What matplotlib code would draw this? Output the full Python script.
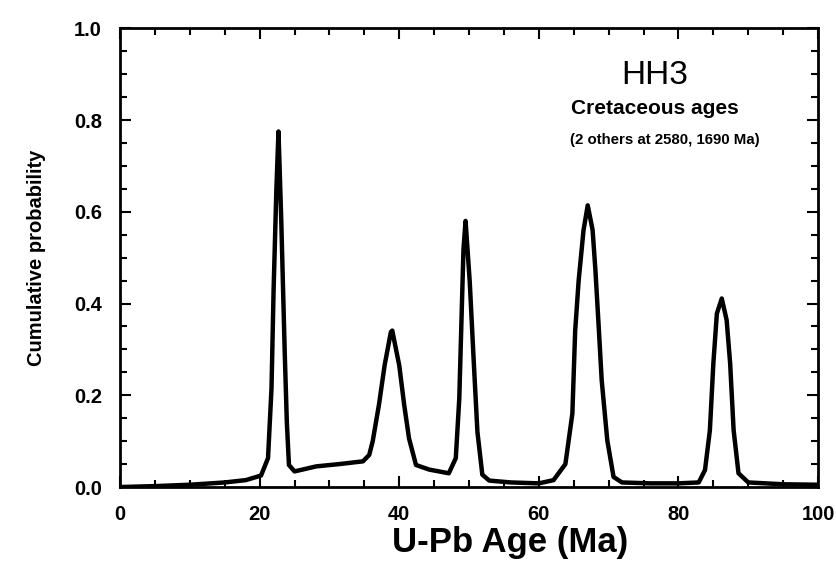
import matplotlib
matplotlib.use("Agg")
import matplotlib.pyplot as plt
from matplotlib.ticker import MultipleLocator

# Values
age = [0, 5, 10, 15, 18, 20.2, 21.2, 21.7, 22.0, 22.4, 22.7, 23.1, 23.6, 23.9,
       24.2, 25.0, 28.1, 31.4, 34.8, 35.7, 36.2, 37.1, 37.9, 38.8, 39.0, 40.0,
       40.7, 41.4, 42.4, 44.3, 47.1, 48.1, 48.6, 49.0, 49.2, 49.5, 50.1, 50.7,
       51.2, 51.9, 52.9, 56, 60, 62.1, 63.8, 64.8, 65.2, 65.7, 66.4, 67.0, 67.7,
       68.1, 68.6, 69.0, 69.8, 70.7, 71.9, 76, 80, 82.9, 83.8, 84.5, 85.0, 85.5,
       86.2, 86.9, 87.4, 87.9, 88.6, 90.0, 95, 100]
prob = [0.0, 0.002, 0.005, 0.01, 0.015, 0.025, 0.063, 0.215, 0.43, 0.65, 0.775,
        0.58, 0.29, 0.14, 0.048, 0.034, 0.045, 0.05, 0.056, 0.07, 0.1, 0.18,
        0.265, 0.338, 0.341, 0.265, 0.18, 0.106, 0.048, 0.038, 0.03, 0.063,
        0.193, 0.41, 0.518, 0.58, 0.447, 0.265, 0.12, 0.027, 0.014, 0.01, 0.008,
        0.015, 0.05, 0.16, 0.34, 0.45, 0.56, 0.614, 0.56, 0.473, 0.342, 0.233,
        0.102, 0.022, 0.01, 0.008, 0.008, 0.01, 0.037, 0.124, 0.27, 0.378, 0.411,
        0.364, 0.27, 0.124, 0.03, 0.01, 0.006, 0.005]

x_ticks = [0, 20, 40, 60, 80, 100]
y_ticks = [0.0, 0.2, 0.4, 0.6, 0.8, 1.0]

plt.rcParams["font.family"] = ["Liberation Sans", "DejaVu Sans"]

fig = plt.figure(figsize=(8.37, 5.65), dpi=100)
ax = fig.add_axes([0.1434, 0.138, 0.834, 0.812])

ax.plot(age, prob, color="k", linewidth=3.2, solid_joinstyle="round")

ax.set_xlim(0, 100)
ax.set_ylim(0, 1.0)
ax.set_xticks(x_ticks)
ax.set_yticks(y_ticks)
ax.set_xticklabels([str(v) for v in x_ticks], fontweight="bold")
ax.set_yticklabels(["%.1f" % v for v in y_ticks], fontweight="bold")
ax.xaxis.set_minor_locator(MultipleLocator(5))
ax.yaxis.set_minor_locator(MultipleLocator(0.05))
ax.tick_params(which="both", direction="in", top=True, right=True,
               labelsize=14.5, width=1.5, pad=13)
ax.tick_params(which="major", length=8)
ax.tick_params(which="minor", length=5)
for s in ax.spines.values():
    s.set_linewidth(2.0)

ax.set_xlabel("U-Pb Age (Ma)", fontsize=25, fontweight="bold")
ax.xaxis.set_label_coords(0.559, -0.085)
ax.set_ylabel("Cumulative probability", fontsize=14.5, fontweight="bold",
              labelpad=20)

ax.text(0.766, 0.898, "HH3", transform=ax.transAxes, ha="center", va="center",
        fontsize=24)
ax.text(0.766, 0.826, "Cretaceous ages", transform=ax.transAxes, ha="center",
        va="center", fontsize=15, fontweight="bold")
ax.text(0.781, 0.756, "(2 others at 2580, 1690 Ma)", transform=ax.transAxes,
        ha="center", va="center", fontsize=10.8, fontweight="bold")

fig.savefig("out.png", dpi=100)
